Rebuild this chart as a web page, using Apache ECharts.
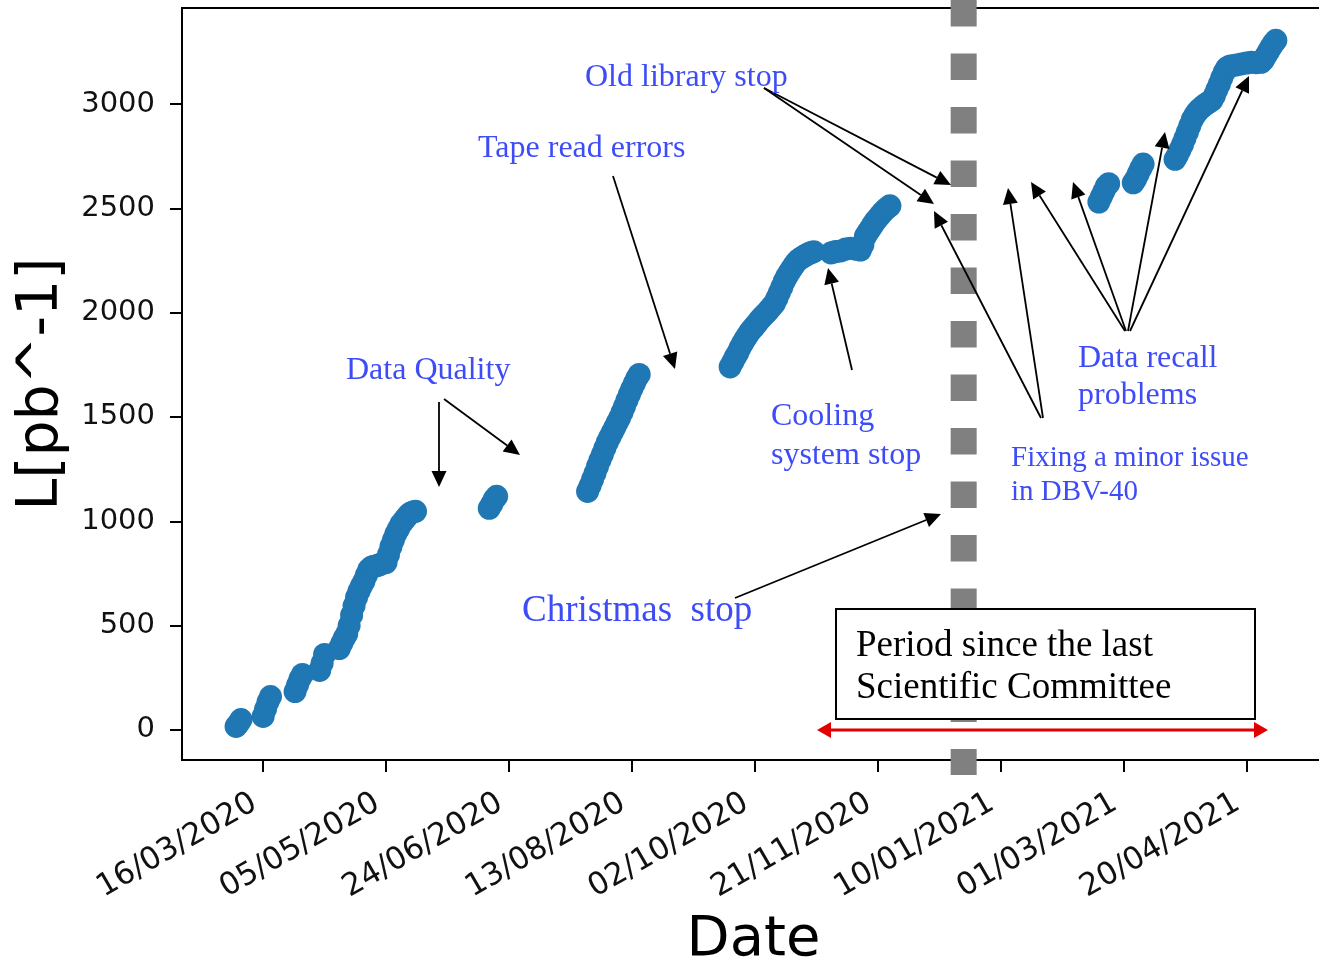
<!DOCTYPE html>
<html><head><meta charset="utf-8">
<script src="https://cdn.jsdelivr.net/npm/echarts@6/dist/echarts.min.js"></script>
<style>html,body{margin:0;padding:0;background:#fff}#c{width:1319px;height:961px}</style>
</head><body><div id="c"></div>
<script>
// ---- data ----
const tickDates = ['2020-03-16','2020-05-05','2020-06-24','2020-08-13','2020-10-02','2020-11-21','2021-01-10','2021-03-01','2021-04-20'];
const yTicks = [0,500,1000,1500,2000,2500,3000];
const committeeDate = ['2020-12-26'];

const run1Dates = ['2020-03-05','2020-03-06','2020-03-07','2020-03-16','2020-03-17','2020-03-18','2020-03-19','2020-03-29','2020-03-30','2020-03-31','2020-04-01','2020-04-08','2020-04-09','2020-04-10','2020-04-16','2020-04-17','2020-04-18','2020-04-19','2020-04-20','2020-04-21','2020-04-22','2020-04-23','2020-04-24','2020-04-25','2020-04-26','2020-04-27','2020-04-28','2020-04-29','2020-04-30','2020-05-01','2020-05-02','2020-05-03','2020-05-05','2020-05-06','2020-05-07','2020-05-08','2020-05-09','2020-05-10','2020-05-11','2020-05-12','2020-05-13','2020-05-14','2020-05-15','2020-05-16','2020-05-17'];
const run1Lumi = [17,32,50,65,100,135,160,184,215,245,266,285,320,362,390,415,440,460,500,550,595,635,665,690,712,742,768,780,785,786,790,795,802,840,878,910,940,962,985,1000,1015,1030,1040,1045,1048];

const run2Dates = ['2020-06-16','2020-06-17','2020-06-18','2020-06-19'];
const run2Lumi = [1062,1082,1105,1120];

const run3Dates = ['2020-07-26','2020-07-27','2020-07-28','2020-07-29','2020-07-30','2020-07-31','2020-08-01','2020-08-02','2020-08-03','2020-08-04','2020-08-05','2020-08-06','2020-08-07','2020-08-08','2020-08-09','2020-08-10','2020-08-11','2020-08-12','2020-08-13','2020-08-14','2020-08-15','2020-08-16'];
const run3Lumi = [1143,1170,1200,1230,1262,1292,1320,1350,1378,1402,1425,1448,1472,1495,1522,1550,1580,1608,1635,1660,1685,1704];

const run4Dates = ['2020-09-22','2020-09-23','2020-09-24','2020-09-25','2020-09-26','2020-09-27','2020-09-28','2020-09-29','2020-09-30',
'2020-10-01','2020-10-02','2020-10-03','2020-10-04','2020-10-05','2020-10-06','2020-10-07','2020-10-08','2020-10-09','2020-10-10','2020-10-11','2020-10-12','2020-10-13','2020-10-14','2020-10-15','2020-10-16','2020-10-17','2020-10-18','2020-10-19','2020-10-20','2020-10-21','2020-10-22','2020-10-23','2020-10-24','2020-10-25','2020-10-26',
'2020-11-02','2020-11-03','2020-11-04','2020-11-06','2020-11-08','2020-11-10','2020-11-12','2020-11-14',
'2020-11-15','2020-11-16','2020-11-17','2020-11-18','2020-11-19','2020-11-20','2020-11-21','2020-11-22','2020-11-23','2020-11-24','2020-11-25','2020-11-26'];
const run4Lumi = [1740,1762,1785,1805,1830,1852,1872,1890,1908,
1922,1936,1950,1965,1978,1990,2003,2016,2030,2044,2068,2095,2122,2150,2172,2192,2210,2228,2243,2255,2263,2270,2277,2283,2288,2292,
2286,2290,2293,2296,2305,2308,2304,2300,
2325,2365,2385,2402,2420,2438,2452,2466,2480,2492,2503,2512];

const run5Dates = ['2021-02-19','2021-02-20','2021-02-21','2021-02-22','2021-02-23',
'2021-03-05','2021-03-06','2021-03-07','2021-03-08','2021-03-09',
'2021-03-22','2021-03-23','2021-03-24','2021-03-25','2021-03-26','2021-03-27','2021-03-28','2021-03-29','2021-03-30','2021-03-31',
'2021-04-01','2021-04-02','2021-04-03','2021-04-04','2021-04-05','2021-04-06','2021-04-07','2021-04-08','2021-04-09','2021-04-10','2021-04-11','2021-04-12','2021-04-13','2021-04-14',
'2021-04-16','2021-04-18','2021-04-20','2021-04-22','2021-04-24','2021-04-26',
'2021-04-27','2021-04-28','2021-04-29','2021-04-30','2021-05-01','2021-05-02'];
const run5Lumi = [2530,2555,2580,2605,2618,
2622,2640,2665,2690,2712,
2735,2755,2780,2805,2835,2865,2895,2925,2945,2962,
2975,2985,2995,3003,3010,3018,3040,3068,3095,3125,3152,3172,3180,3183,
3187,3192,3196,3200,3198,3200,
3212,3232,3252,3272,3290,3305];

// ---- helpers ----
function ts(s){ const p = s.split('-').map(Number); return Date.UTC(p[0], p[1]-1, p[2]); }
function fmt(v){ const d = new Date(v); const dd = String(d.getUTCDate()).padStart(2,'0'); const mm = String(d.getUTCMonth()+1).padStart(2,'0'); return dd + '/' + mm + '/' + d.getUTCFullYear(); }
const runs = [[run1Dates,run1Lumi],[run2Dates,run2Lumi],[run3Dates,run3Lumi],[run4Dates,run4Lumi],[run5Dates,run5Lumi]];
const points = [];
runs.forEach(r => r[0].forEach((d,i) => points.push([ts(d), r[1][i]])));

const BLUE = '#3d4cf7';
const SERIF = '"Liberation Serif", "Times New Roman", serif';
function arrow(x1,y1,x2,y2,color,w,hl,hw){
  const a = Math.atan2(y2-y1, x2-x1);
  const bx = x2 - hl*Math.cos(a), by = y2 - hl*Math.sin(a);
  const px = -Math.sin(a)*hw, py = Math.cos(a)*hw;
  return [
    {type:'line', z:100, shape:{x1:x1,y1:y1,x2:bx,y2:by}, style:{stroke:color, lineWidth:w}},
    {type:'polygon', z:100, shape:{points:[[x2,y2],[bx+px,by+py],[bx-px,by-py]]}, style:{fill:color}}
  ];
}
function label(text, x, y, size, color){
  return {type:'text', z:101, x:x, y:y, style:{text:text, fontFamily:SERIF, fontSize:size, fill:color||BLUE, verticalAlign:'middle', align:'left'}};
}
const K = '#000';
let g = [];
g = g.concat(arrow(439,402,439,487,K,1.8,16,7.5));
g = g.concat(arrow(444,399,520,455,K,1.8,16,7.5));
g = g.concat(arrow(613,176,675,369,K,1.8,16,7.5));
g = g.concat(arrow(764,88,951,185,K,1.8,16,7.5));
g = g.concat(arrow(764,88,934,204,K,1.8,16,7.5));
g = g.concat(arrow(852,370,828,268,K,1.8,16,7.5));
g = g.concat(arrow(735,598,941,514,K,1.8,16,7.5));
g = g.concat(arrow(1041,418,934,211,K,1.8,16,7.5));
g = g.concat(arrow(1043,418,1008,188,K,1.8,16,7.5));
g = g.concat(arrow(1125,331,1031,182,K,1.8,16,7.5));
g = g.concat(arrow(1126,331,1073,182,K,1.8,16,7.5));
g = g.concat(arrow(1128,331,1165,132,K,1.8,16,7.5));
g = g.concat(arrow(1130,331,1249,76,K,1.8,16,7.5));
g.push(label('Old library stop', 585, 78, 32));
g.push(label('Tape read errors', 478, 149, 32));
g.push(label('Data Quality', 346, 371, 32));
g.push(label('Christmas  stop', 522, 611, 37));
g.push(label('Cooling', 771, 417, 32));
g.push(label('system stop', 771, 456, 32));
g.push(label('Data recall', 1078, 359, 32));
g.push(label('problems', 1078, 396, 32));
g.push(label('Fixing a minor issue', 1011, 458, 29));
g.push(label('in DBV-40', 1011, 492, 29));
g.push({type:'rect', z:99, shape:{x:836, y:609, width:419, height:110}, style:{fill:'#fff', stroke:'#000', lineWidth:2}});
g.push(label('Period since the last', 856, 646, 37, '#000'));
g.push(label('Scientific Committee', 856, 688, 37, '#000'));
(function(){
  const y = 730, xa = 817, xb = 1268, hl = 14, hw = 8, c = '#e00000';
  g.push({type:'line', z:100, shape:{x1:xa+hl, y1:y, x2:xb-hl, y2:y}, style:{stroke:c, lineWidth:3}});
  g.push({type:'polygon', z:100, shape:{points:[[xa,y],[xa+hl,y-hw],[xa+hl,y+hw]]}, style:{fill:c}});
  g.push({type:'polygon', z:100, shape:{points:[[xb,y],[xb-hl,y-hw],[xb-hl,y+hw]]}, style:{fill:c}});
})();

const chart = echarts.init(document.getElementById('c'), null, {renderer:'canvas'});
chart.setOption({
  animation: false,
  backgroundColor: '#fff',
  grid: {left:182, top:8, width:1143, height:752, outerBoundsMode:'none', containLabel:false,
         show:true, borderColor:'#000', borderWidth:2, backgroundColor:'transparent'},
  xAxis: {
    type:'value', min: ts('2020-02-12'), max: ts('2021-05-22'), scale:true,
    axisLine:{show:true, onZero:false, lineStyle:{color:'#000', width:2}},
    axisTick:{show:true, length:12, lineStyle:{color:'#000', width:2}, customValues: tickDates.map(ts)},
    axisLabel:{customValues: tickDates.map(ts), rotate:30, formatter: v => fmt(v), fontFamily:'DejaVu Sans', fontSize:31, color:'#111', margin:36, padding:[0,10,0,0], hideOverlap:false},
    splitLine:{show:false},
    name:'Date', nameLocation:'middle', nameGap:152, nameTextStyle:{fontFamily:'DejaVu Sans', fontSize:56, color:'#000'}
  },
  yAxis: {
    type:'value', min:-144, max:3460,
    axisLine:{show:true, onZero:false, lineStyle:{color:'#000', width:2}},
    axisTick:{show:true, length:12, lineStyle:{color:'#000', width:2}, customValues: yTicks},
    axisLabel:{customValues: yTicks, formatter: v => String(v), fontFamily:'DejaVu Sans', fontSize:29, color:'#111', margin:27},
    splitLine:{show:false},
    name:'L[pb^-1]', nameLocation:'middle', nameGap:106, nameTextStyle:{fontFamily:'DejaVu Sans', fontSize:57, color:'#000'}
  },
  series: [
    {type:'scatter', data: points, symbol:'circle', symbolSize:23, itemStyle:{color:'#1f77b4', opacity:1}, z:3},
    {type:'custom', clip:false, z:2, data: committeeDate.map(d => [ts(d), 0]),
     renderItem: function(params, api){
       const x = api.coord([api.value(0), api.value(1)])[0];
       const cs = params.coordSys;
       return {type:'line', shape:{x1:x, y1:cs.y-8, x2:x, y2:cs.y+cs.height+15},
               style:{stroke:'#808080', lineWidth:26, lineDash:[26.5,27], lineCap:'butt'}};
     }}
  ],
  graphic: g
});
</script></body></html>
